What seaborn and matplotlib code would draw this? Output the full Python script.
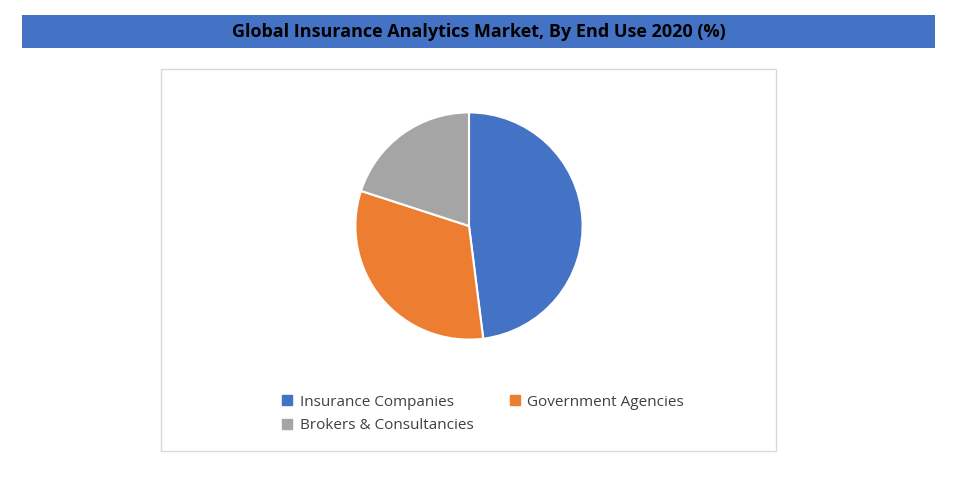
import matplotlib
matplotlib.use("Agg")
import matplotlib.pyplot as plt
import seaborn as sns
from matplotlib.patches import Rectangle
from matplotlib.lines import Line2D

categories = ["Insurance Companies", "Government Agencies", "Brokers & Consultancies"]
values = [48, 32, 20]
colors = ["#4472C4", "#ED7D31", "#A5A5A5"]
title = "Global Insurance Analytics Market, By End Use 2020 (%)"

sns.set_theme(style="white", font="Open Sans")
fig = plt.figure(figsize=(9.63, 4.82), dpi=100)
W, H = 963, 482

# title bar
fig.patches.append(Rectangle((22/W, 1-48/H), (935-22)/W, 33/H, transform=fig.transFigure,
                             facecolor="#4472C4", edgecolor="none", zorder=0))
fig.text(479/W, 1-32/H, title, ha="center", va="center", fontsize=13, fontweight="bold", color="black")
# chart box
fig.patches.append(Rectangle((161/W, 1-451/H), (776-161)/W, (451-69)/H, transform=fig.transFigure,
                             facecolor="white", edgecolor="#D9D9D9", linewidth=1, zorder=0))

ax = fig.add_axes([(469-142)/W, (482-368)/H, 284/W, 284/H])
ax.set_zorder(5)
ax.patch.set_alpha(0)
ax.pie(values, colors=colors, startangle=90, counterclock=False,
       wedgeprops=dict(edgecolor="white", linewidth=1.5))
ax.set_aspect("equal")

handles = [Line2D([], [], marker="s", linestyle="none", markersize=7, color=c) for c in colors]
order = [0, 2, 1]
leg = fig.legend([handles[i] for i in order], [categories[i] for i in order], ncol=2,
                 loc="upper left", bbox_to_anchor=(266/W, 1-381/H),
                 frameon=False, fontsize=11, handletextpad=0.3, columnspacing=2.2,
                 labelspacing=0.55, handlelength=1.0, labelcolor="#404040")
leg.set_zorder(6)

fig.savefig("out.png", dpi=100)
